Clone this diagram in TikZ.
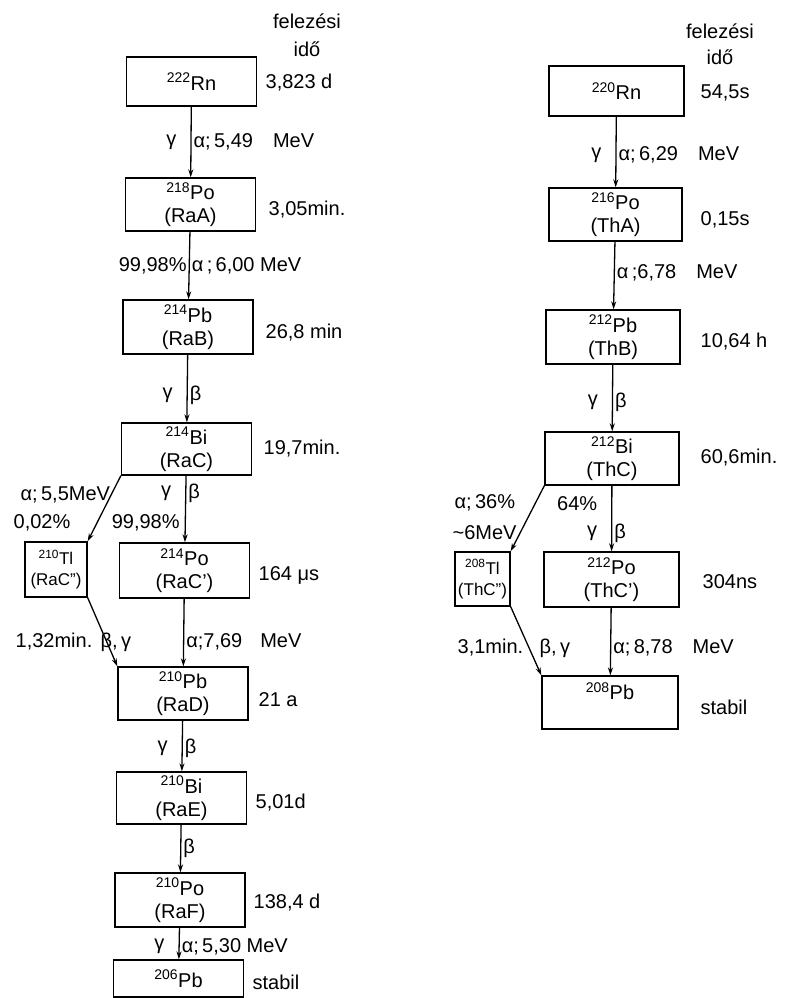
\documentclass[tikz,border=0pt]{standalone}
\usepackage{fontspec}
\setmainfont{Liberation Sans}
\usetikzlibrary{arrows.meta}

\begin{document}
\begin{tikzpicture}[x=1pt, y=-1pt, >={Stealth[length=8pt,width=5pt]}, line width=1.3pt,
  box/.style={draw, align=center, inner sep=1pt, minimum width=130pt, minimum height=53pt, font=\fontsize{20}{23}\selectfont},
  tlbox/.style={box, font=\fontsize{17}{21}\selectfont},
  txt/.style={anchor=west, inner sep=0pt, font=\fontsize{20}{23}\selectfont},
  lab/.style={inner sep=2pt, font=\fontsize{20}{23}\selectfont},]
\useasboundingbox (0,0) rectangle (784,998);
% radium series
\node[txt, anchor=center, align=center, font=\fontsize{20}{28}\selectfont] (0) at (307,35) {felezési\\idő};
\node[box, minimum height=49pt] (1) at (191.5,81.5) {\textsuperscript{222}Rn};
\node[box] (2) at (190.5,204.5) {\textsuperscript{218}Po\\(RaA)};
\node[box, minimum height=54pt] (3) at (188,327) {\textsuperscript{214}Pb\\(RaB)};
\node[box, minimum height=52pt] (4) at (186.5,449) {\textsuperscript{214}Bi\\(RaC)};
\node[tlbox, minimum width=62pt, minimum height=55pt] (5) at (56,569.5) {\textsuperscript{210}Tl\\(RaC'')};
\node[box, minimum height=55pt] (6) at (184.5,570.5) {\textsuperscript{214}Po\\(RaC')};
\node[box] (7) at (183,693.5) {\textsuperscript{210}Pb\\(RaD)};
\node[box, minimum height=52pt] (8) at (181.5,798) {\textsuperscript{210}Bi\\(RaE)};
\node[box, minimum height=54pt] (9) at (180,900) {\textsuperscript{210}Po\\(RaF)};
\node[box, minimum height=37pt] (10) at (178.5,978.5) {\textsuperscript{206}Pb};
\node[txt] (h1) at (265,83) {3,823 d};
\node[txt] (h2) at (268,210) {3,05min.};
\node[txt] (h3) at (265,333) {26,8 min};
\node[txt] (h4) at (263,449) {19,7min.};
\node[txt] (h6) at (258,575) {164 μs};
\node[txt] (h7) at (258,700) {21 a};
\node[txt] (h8) at (255,803) {5,01d};
\node[txt] (h9) at (253,903) {138,4 d};
\node[txt] (h10) at (252,982) {stabil};
\node[txt] (l1) at (20,495) {α;\,5,5MeV};
\node[txt] (l2) at (13,523) {0,02\%};
\node[txt] (l3) at (15,642) {1,32min.};
\node[txt] (l4) at (100,642) {β,\,γ};
  \draw [->] (1)--(2) node[midway, lab, left=12pt]{γ} node[midway, lab, right]{α;\,5,49\quad MeV};
  \draw [->] (2)--(3) node[midway, lab, left]{99,98\%} node[midway, lab, right]{α\,;\,6,00 MeV};
  \draw [->] (3)--(4) node[pos=.6, lab, left=12pt]{γ} node[pos=.6, lab, right]{β};
  \draw [->] (4.south west)--(5.north east);
  \draw [->] (4)--(6) node[pos=.26, lab, left=12pt]{γ} node[pos=.26, lab, right]{β}
     node[pos=.7, lab, left=3pt]{99,98\%};
  \draw [->] (5.south east)--(7.north west);
  \draw [->] (6)--(7) node[pos=.64, lab, right]{α;7,69\hspace{18pt}MeV};
  \draw [->] (7)--(8) node[pos=.54, lab, left=12pt]{γ} node[pos=.54, lab, right]{β};
  \draw [->] (8)--(9) node[midway, lab, right]{β};
  \draw [->] (9)--(10) node[pos=.6, lab, left=12pt]{γ} node[pos=.6, lab, right]{α;\,5,30 MeV};
% thorium series
\node[txt, anchor=center, align=center, font=\fontsize{20}{26}\selectfont] (00) at (720,44) {felezési\\idő};
\node[box, minimum width=135pt, minimum height=50pt] (11) at (616.5,91) {\textsuperscript{220}Rn};
\node[box, minimum width=133pt] (12) at (615.5,214.5) {\textsuperscript{216}Po\\(ThA)};
\node[box, minimum width=134pt, minimum height=54pt] (13) at (613,337) {\textsuperscript{212}Pb\\(ThB)};
\node[box, minimum width=134pt] (14) at (612,458.5) {\textsuperscript{212}Bi\\(ThC)};
\node[tlbox, minimum width=55pt, minimum height=54pt] (15) at (482.5,579) {\textsuperscript{208}Tl\\(ThC'')};
\node[box, minimum width=135pt, minimum height=55pt] (16) at (611.5,579.5) {\textsuperscript{212}Po\\(ThC')};
\node[box, minimum width=136pt] (17) at (610,702.5) {\textsuperscript{208}Pb\\\mbox{}};
\node[txt] (h11) at (700,93) {54,5s};
\node[txt] (h12) at (700,220) {0,15s};
\node[txt] (h13) at (700,342) {10,64 h};
\node[txt] (h14) at (700,458) {60,6min.};
\node[txt] (h16) at (702,582) {304ns};
\node[txt] (h17) at (700,707) {stabil};
\node[txt] (l11) at (454,503) {α;\,36\%};
\node[txt] (l12) at (452,533) {\textasciitilde6MeV};
\node[txt] (l13) at (457,648) {3,1min.};
\node[txt] (l14) at (539,648) {β,\,γ};
  \draw [->] (11)--(12) node[pos=.54, lab, left=12pt]{γ} node[pos=.54, lab, right]{α;\,6,29\quad MeV};
  \draw [->] (12)--(13) node[pos=.46, lab, right]{α\,;6,78\quad MeV};
  \draw [->] (13)--(14) node[pos=.56, lab, left=12pt]{γ} node[pos=.56, lab, right]{β};
  \draw [->] (14.south west)--(15.north east);
  \draw [->] (14)--(16) node[pos=.27, lab, left=12pt]{64\%}
     node[pos=.72, lab, left=12pt]{γ} node[pos=.72, lab, right]{β};
  \draw [->] (15.south east)--(17.north west);
  \draw [->] (16)--(17) node[pos=.6, lab, right]{α;\,8,78\hspace{20pt}MeV};
\end{tikzpicture}
\end{document}
